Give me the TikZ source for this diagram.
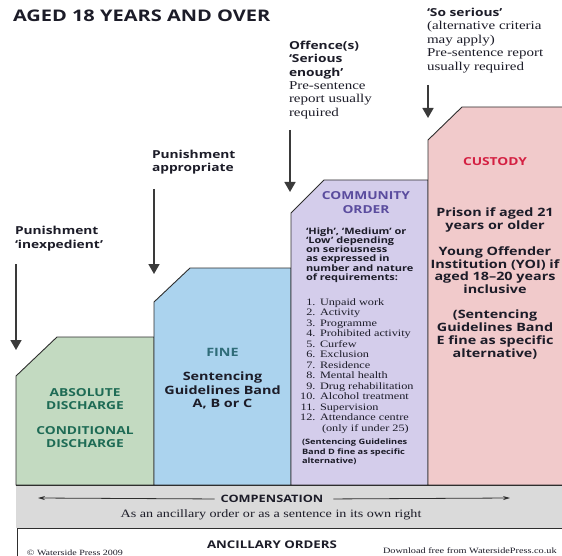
\documentclass[tikz,border=0pt]{standalone}
\usepackage{fontspec}
\setmainfont{Liberation Serif}
\newfontfamily\hsans{Open Sans}
\usetikzlibrary{arrows.meta}

\definecolor{greenfill}{HTML}{C3DAC1}
\definecolor{bluefill}{HTML}{ABD3EE}
\definecolor{purplefill}{HTML}{D4CDEB}
\definecolor{pinkfill}{HTML}{F1CACB}
\definecolor{bandgrey}{HTML}{DADADA}
\definecolor{edge}{HTML}{2E2E2E}
\definecolor{dropgrey}{HTML}{3A3A3A}
\definecolor{greentext}{HTML}{1E6B55}
\definecolor{finetext}{HTML}{2F6C78}
\definecolor{cotext}{HTML}{5A4C9E}
\definecolor{custodytext}{HTML}{D42042}
\definecolor{ink}{HTML}{1C1C28}

\newcommand\hb{\hsans\bfseries}
\newcommand\sz[2]{\fontsize{#1}{#2}\selectfont}

\begin{document}
\begin{tikzpicture}[x=1pt,y=-1pt,
  lbl/.style={inner sep=0pt, outer sep=0pt, xscale=1.25, text=ink},
  hd/.style={lbl, align=left, anchor=north west, font=\hb\sz{11}{13.5}},
  note/.style={lbl, align=left, anchor=north west, font=\sz{12}{13.5}},
  tiertitle/.style={lbl, align=center, anchor=north, font=\hb\sz{11}{14}},
  tierbody/.style={lbl, align=center, anchor=north, font=\hb\sz{11.5}{13.5}},
  tier/.style={draw=edge, line width=0.9pt},
  drop/.style={draw=dropgrey, line width=1.7pt, -{Triangle[length=10pt,width=11pt]}},
  thinarrow/.style={draw=edge, line width=0.8pt, -{Stealth[length=7pt,width=4pt]}},
  listnum/.style={lbl, anchor=base east, font=\sz{9.8}{10.5}},
  listitem/.style={lbl, anchor=base west, font=\sz{9.8}{10.5}},
]
\useasboundingbox (0,0) rectangle (562,556);

% ---- tiers ----
\path[tier, fill=greenfill]  (16,485) -- (16,376) -- (57,337) -- (154,337) -- (154,485) -- cycle;
\path[tier, fill=bluefill]   (154,485) -- (154,302) -- (190,268) -- (291,268) -- (291,485) -- cycle;
\path[tier, fill=purplefill] (291,485) -- (291,213) -- (324,180) -- (428,180) -- (428,485) -- cycle;
\path[tier, fill=pinkfill]   (428,485) -- (428,140) -- (462,107) -- (570,107) -- (570,485) -- cycle;

% ---- compensation band and ancillary strip ----
\fill[bandgrey] (16,486) rectangle (570,528);
\draw[tier] (16,485) -- (570,485);
\path[tier, fill=white] (17,570) -- (17,528) -- (570,528) -- (570,570);

% ---- title ----
\node[lbl, anchor=base west, font=\hb\sz{16}{16}] (title) at (13,22) {AGED 18 YEARS AND OVER};

% ---- thresholds ----
\node[hd] (inexp) at (15,226.5) {Punishment\\‘inexpedient’};
\coordinate (inexpTop) at (16,264);
\coordinate (inexpTip) at (16,350);
\draw[drop] (inexpTop) -- (inexpTip);

\node[hd] (approp) at (152,150) {Punishment\\appropriate};
\coordinate (appropTop) at (154,189);
\coordinate (appropTip) at (154,274);
\draw[drop] (appropTop) -- (appropTip);

\node[hd] (enough) at (289,41) {Offence(s)\\‘Serious\\enough’};
\node[note] (enoughNote) at (289,81.5) {Pre-sentence\\report usually\\required};
\coordinate (enoughTop) at (290,130);
\coordinate (enoughTip) at (290,192);
\draw[drop] (enoughTop) -- (enoughTip);

\node[hd] (serious) at (427,8) {‘So serious’};
\node[note] (seriousNote) at (427,21.5) {(alternative criteria\\may apply)\\Pre-sentence report\\usually required};
\coordinate (seriousTop) at (428,85);
\coordinate (seriousTip) at (428,118);
\draw[drop] (seriousTop) -- (seriousTip);

% ---- discharge ----
\node[tierbody, text=greentext, font=\hb\sz{11}{13}] (absolute) at (85,389) {ABSOLUTE\\DISCHARGE};
\node[tierbody, text=greentext, font=\hb\sz{11}{13}] (conditional) at (85,427) {CONDITIONAL\\DISCHARGE};

% ---- fine ----
\node[tiertitle, text=finetext, font=\hb\sz{11.5}{14}] (fine) at (222.5,348) {FINE};
\node[tierbody] (fineBand) at (222.5,372) {Sentencing\\Guidelines Band\\A, B or C};

% ---- community order ----
\node[tiertitle, text=cotext] (community) at (366,192) {COMMUNITY\\ORDER};
\node[lbl, align=left, anchor=north west, font=\hb\sz{8.8}{9.1}] (coLevels) at (306,228)
  {‘High’, ‘Medium’ or\\‘Low’ depending\\on seriousness\\as expressed in\\number and nature\\of requirements:};
\foreach \k/\item [count=\i] in {1/Unpaid work, 2/Activity, 3/Programme, 4/Prohibited activity,
    5/Curfew, 6/Exclusion, 7/Residence, 8/Mental health, 9/Drug rehabilitation,
    10/Alcohol treatment, 11/Supervision, 12/Attendance centre} {
  \node[listnum] (num\k) at (315.5,{305+(\i-1)*10.5}) {\k.};
  \node[listitem] (req\k) at (320,{305+(\i-1)*10.5}) {\item};
}
\node[listitem] (req12b) at (322,431) {(only if under 25)};
\node[lbl, align=left, anchor=north west, font=\hb\sz{7.4}{9.5}] (coFine) at (302,439)
  {(Sentencing Guidelines\\Band D fine as specific\\alternative)};

% ---- custody ----
\node[tiertitle, text=custodytext] (custody) at (495,158) {CUSTODY};
\node[tierbody, font=\hb\sz{11.5}{12.8}] (prison) at (495,208) {Prison if aged 21\\years or older};
\node[tierbody, font=\hb\sz{11.5}{12.8}] (yoi) at (495,246.5) {Young Offender\\Institution (YOI) if\\aged 18–20 years\\inclusive};
\node[tierbody, font=\hb\sz{11.5}{12.8}] (custFine) at (495,310) {(Sentencing\\Guidelines Band\\E fine as specific\\alternative)};

% ---- compensation ----
\node[lbl, font=\hb\sz{10.2}{12}] (comp) at (272,499) {COMPENSATION};
\coordinate (compL) at (38,498);
\coordinate (compR) at (510,498);
\draw[thinarrow, shorten <=6pt] (comp.west) -- (compL);
\draw[thinarrow, shorten <=10pt] (comp.east) -- (compR);
\node[lbl, font=\sz{11.3}{13}] (compNote) at (271,515) {As an ancillary order or as a sentence in its own right};

% ---- ancillary orders ----
\node[lbl, font=\hb\sz{10.6}{12}] (ancillary) at (272,545) {ANCILLARY ORDERS};
\node[lbl, anchor=base west, font=\sz{8}{9}] (copyright) at (27,555) {© Waterside Press 2009};
\node[lbl, anchor=base west, font=\sz{8.2}{9}] (download) at (383,553) {Download free from WatersidePress.co.uk};
\end{tikzpicture}
\end{document}
